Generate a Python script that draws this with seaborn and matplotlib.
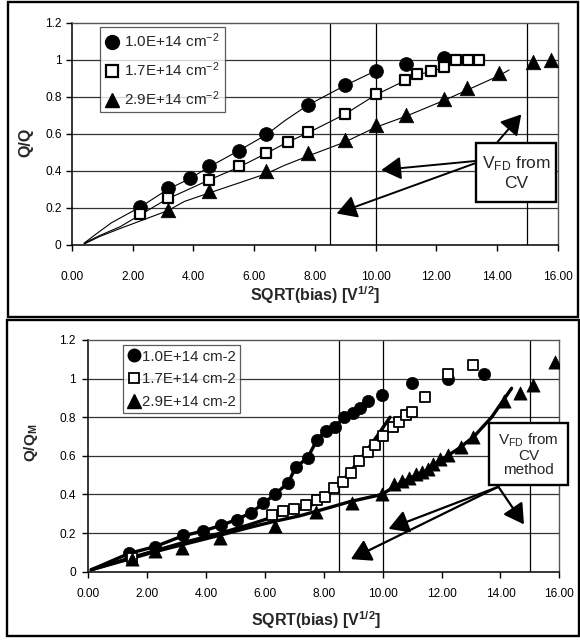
import matplotlib
matplotlib.use("Agg")
import matplotlib.pyplot as plt
import seaborn as sns
import pandas as pd
from matplotlib.lines import Line2D
from matplotlib.patches import Rectangle

# ---------------- data ----------------
labels_top = ["1.0E+14 cm$^{-2}$", "1.7E+14 cm$^{-2}$", "2.9E+14 cm$^{-2}$"]
labels_bot = ["1.0E+14 cm-2", "1.7E+14 cm-2", "2.9E+14 cm-2"]

# full-depletion voltages from CV, in sqrt(V)
vfd_sqrt = [8.5, 10.0, 15.0]

# upper panel: measured points
top_c_x = [2.25, 3.15, 3.9, 4.5, 5.5, 6.4, 7.77, 8.98, 10.0, 11.0, 12.25]
top_c_y = [0.203, 0.306, 0.363, 0.428, 0.509, 0.597, 0.755, 0.863, 0.94, 0.975, 1.01]
top_s_x = [2.25, 3.15, 4.5, 5.5, 6.4, 7.1, 7.77, 8.98, 10.0, 10.98, 11.38, 11.82, 12.27, 12.65, 13.04, 13.4]
top_s_y = [0.166, 0.252, 0.35, 0.426, 0.497, 0.557, 0.608, 0.707, 0.813, 0.89, 0.922, 0.937, 0.962, 1.0, 1.0, 1.0]
top_t_x = [3.15, 4.5, 6.4, 7.77, 8.98, 10.0, 11.0, 12.25, 13.0, 14.08, 15.17, 15.78]
top_t_y = [0.19, 0.291, 0.40, 0.495, 0.567, 0.648, 0.70, 0.79, 0.845, 0.926, 0.99, 1.0]

# upper panel: continuous charge curves
top_cc_x = [0.4, 0.8, 1.3, 1.8, 2.25, 3.15, 3.9, 4.5, 5.5, 6.4, 7.0, 7.77, 8.98, 10.0]
top_cc_y = [0.01, 0.06, 0.12, 0.165, 0.205, 0.30, 0.36, 0.42, 0.51, 0.595, 0.67, 0.755, 0.86, 0.94]
top_sc_x = [0.4, 0.9, 1.6, 2.25, 3.15, 3.7, 4.5, 5.5, 6.4, 7.1, 7.77, 8.98, 10.0, 10.98, 11.38, 11.82, 12.27]
top_sc_y = [0.01, 0.05, 0.10, 0.163, 0.25, 0.29, 0.35, 0.42, 0.495, 0.555, 0.605, 0.705, 0.81, 0.888, 0.92, 0.935, 0.96]
top_tc_x = [0.4, 0.9, 1.6, 2.25, 3.15, 3.7, 4.5, 5.5, 6.4, 7.0, 7.77, 8.98, 10.0, 11.0, 12.25, 13.0, 14.08, 14.4]
top_tc_y = [0.005, 0.045, 0.09, 0.13, 0.185, 0.235, 0.28, 0.335, 0.385, 0.43, 0.48, 0.555, 0.635, 0.695, 0.78, 0.835, 0.915, 0.945]

# lower panel: measured points
bot_c_x = [1.39, 2.27, 3.2, 3.88, 4.51, 5.04, 5.52, 5.92, 6.33, 6.79, 7.04, 7.45, 7.76, 8.06,
           8.38, 8.69, 8.98, 9.23, 9.51, 9.97, 10.98, 12.21, 13.44]
bot_c_y = [0.098, 0.13, 0.19, 0.21, 0.242, 0.27, 0.306, 0.354, 0.40, 0.458, 0.54, 0.587, 0.68, 0.73,
           0.75, 0.80, 0.824, 0.847, 0.884, 0.916, 0.976, 0.997, 1.024]
bot_s_x = [1.5, 6.23, 6.6, 7.0, 7.38, 7.76, 8.04, 8.35, 8.64, 8.91, 9.21, 9.51, 9.74, 10.0,
           10.34, 10.57, 10.78, 10.98, 11.44, 12.21, 13.06]
bot_s_y = [0.07, 0.292, 0.312, 0.326, 0.346, 0.369, 0.389, 0.432, 0.466, 0.513, 0.574, 0.622, 0.656, 0.703,
           0.751, 0.777, 0.812, 0.829, 0.904, 1.025, 1.071]
bot_t_x = [1.5, 2.27, 3.17, 4.47, 6.34, 7.72, 8.95, 9.97, 10.4, 10.65, 10.9, 11.12, 11.35, 11.55,
           11.72, 11.95, 12.22, 12.65, 13.06, 14.12, 14.66, 15.12, 15.85]
bot_t_y = [0.065, 0.108, 0.121, 0.177, 0.237, 0.311, 0.354, 0.40, 0.452, 0.468, 0.487, 0.506, 0.518, 0.53,
           0.556, 0.582, 0.605, 0.648, 0.70, 0.885, 0.924, 0.967, 1.088]

# lower panel: continuous charge curves
bot_cc_x = [0.1, 1.39, 2.27, 3.2, 3.88, 4.51, 5.04, 5.52, 5.92, 6.33, 6.79, 7.04, 7.45, 7.76,
            8.06, 8.38, 8.69, 8.98, 9.23, 9.51]
bot_cc_y = [0.01, 0.095, 0.13, 0.185, 0.21, 0.24, 0.27, 0.305, 0.35, 0.40, 0.46, 0.54, 0.59, 0.68,
            0.73, 0.75, 0.80, 0.824, 0.847, 0.884]
bot_sc_x = [0.1, 1.5, 2.3, 3.2, 4.5, 5.5, 6.3, 6.96, 7.5, 7.98, 8.66, 9.23, 9.8, 10.25]
bot_sc_y = [0.01, 0.075, 0.11, 0.15, 0.2, 0.245, 0.285, 0.311, 0.34, 0.371, 0.475, 0.579, 0.70, 0.80]
bot_tc_x = [0.1, 1.5, 2.3, 3.2, 4.5, 5.5, 6.3, 7.2, 7.98, 8.89, 9.97, 10.5, 11.0, 11.5, 12.0,
            12.6, 13.1, 13.7, 14.38]
bot_tc_y = [0.01, 0.07, 0.105, 0.14, 0.19, 0.23, 0.26, 0.29, 0.323, 0.363, 0.40, 0.45, 0.49, 0.525,
            0.58, 0.64, 0.70, 0.80, 0.95]

x_ticks = [0, 2, 4, 6, 8, 10, 12, 14, 16]
x_tick_labels = ["0.00", "2.00", "4.00", "6.00", "8.00", "10.00", "12.00", "14.00", "16.00"]
y_ticks = [0, 0.2, 0.4, 0.6, 0.8, 1.0, 1.2]
y_tick_labels = ["0", "0.2", "0.4", "0.6", "0.8", "1", "1.2"]

# ---------------- style ----------------
sns.set_theme(style="white")
plt.rcParams["font.family"] = ["Liberation Sans", "DejaVu Sans"]
plt.rcParams["mathtext.default"] = "regular"

W, H = 580, 641
fig = plt.figure(figsize=(W / 100, H / 100), dpi=100)


def px_axes(x0, y0, x1, y1):
    """Axes rectangle from pixel corners (top-left origin)."""
    return [x0 / W, (H - y1) / H, (x1 - x0) / W, (y1 - y0) / H]


ax_top = fig.add_axes(px_axes(72, 22.7, 557.7, 245))
ax_bot = fig.add_axes(px_axes(88.3, 340, 559.3, 571.7))

# outer frames around each panel
for (x0, y0, x1, y1) in [(8, 2, 578, 317), (7, 320, 579, 636)]:
    fig.add_artist(Rectangle((x0 / W, (H - y1) / H), (x1 - x0) / W, (y1 - y0) / H,
                             transform=fig.transFigure, fill=False, lw=1.7, ec="black"))


def style_axes(ax, xpad, ypad):
    ax.set_xlim(0, 16)
    ax.set_ylim(0, 1.2)
    ax.set_xticks(x_ticks)
    ax.set_xticklabels(x_tick_labels)
    ax.set_yticks(y_ticks)
    ax.set_yticklabels(y_tick_labels)
    ax.tick_params(axis="x", direction="out", length=4, width=1, pad=xpad, labelsize=8.6, colors="black")
    ax.tick_params(axis="y", direction="out", length=4, width=1, pad=ypad, labelsize=8.6, colors="black")
    ax.tick_params(bottom=True, left=True)
    for y in y_ticks[1:-1]:
        ax.axhline(y, color="#333333", lw=0.9, zorder=0.5)
    for v in vfd_sqrt:
        ax.axvline(v, color="black", lw=0.9, zorder=0.6)
    for side in ("top", "right"):
        ax.spines[side].set_color("#555555")
        ax.spines[side].set_linewidth(1.0)
    for side in ("left", "bottom"):
        ax.spines[side].set_color("black")
        ax.spines[side].set_linewidth(1.1)


def curve(ax, xs, ys, lw):
    df = pd.DataFrame({"x": xs, "y": ys})
    sns.lineplot(data=df, x="x", y="y", sort=False, estimator=None, color="black",
                 lw=lw, ax=ax, zorder=2, legend=False)


def points(ax, xs, ys, marker, s, face, lw):
    df = pd.DataFrame({"x": xs, "y": ys})
    sns.scatterplot(data=df, x="x", y="y", marker=marker, s=s, color=face, edgecolor="black",
                    linewidth=lw, ax=ax, zorder=3, legend=False)


arrow_kw = dict(arrowstyle="-|>,head_length=0.55,head_width=0.32", mutation_scale=22,
                color="black", shrinkA=0, shrinkB=0)

# ---------------- upper panel ----------------
style_axes(ax_top, xpad=15, ypad=3.5)
curve(ax_top, top_cc_x, top_cc_y, 0.8)
curve(ax_top, top_sc_x, top_sc_y, 0.8)
curve(ax_top, top_tc_x, top_tc_y, 0.8)
points(ax_top, top_c_x, top_c_y, "o", 100, "black", 0.5)
points(ax_top, top_s_x, top_s_y, "s", 62, "white", 1.6)
points(ax_top, top_t_x, top_t_y, "^", 110, "black", 0.5)

ax_top.set_xlabel("SQRT(bias) [V$^{1/2}$]", fontsize=11.5, fontweight="bold")
ax_top.set_ylabel("Q/Q", fontsize=11.5, fontweight="bold")
ax_top.xaxis.set_label_coords(0.5, -0.178)
ax_top.yaxis.set_label_coords(-0.08, 0.46)

h_top = [
    Line2D([], [], ls="none", marker="o", ms=10, mfc="black", mec="black"),
    Line2D([], [], ls="none", marker="s", ms=8, mfc="white", mec="black", mew=1.6),
    Line2D([], [], ls="none", marker="^", ms=10.5, mfc="black", mec="black"),
]
leg = ax_top.legend(h_top, labels_top, loc="upper left", bbox_to_anchor=(0.0577, 0.982),
                    borderaxespad=0, fontsize=11, frameon=True, fancybox=False,
                    handlelength=1.0, handletextpad=0.3, borderpad=0.3, labelspacing=0.68)
leg.get_frame().set_edgecolor("#333333")
leg.get_frame().set_linewidth(0.9)
leg.set_zorder(6)

ax_top.add_patch(Rectangle((13.31, 0.234), 2.63, 0.315, fc="white", ec="black",
                           lw=1.7, zorder=5, clip_on=False))
ax_top.text(14.63, 0.391, "V$_{FD}$ from\nCV", ha="center", va="center",
            fontsize=12.5, zorder=6, linespacing=1.25)

for (x0, y0), (x1, y1) in [((13.26, 0.44), (8.72, 0.17)),
                           ((13.26, 0.453), (10.19, 0.405)),
                           ((14.02, 0.557), (14.8, 0.705))]:
    ax_top.annotate("", xy=(x1, y1), xytext=(x0, y0),
                    arrowprops=dict(lw=1.4, **arrow_kw), zorder=4)

# ---------------- lower panel ----------------
style_axes(ax_bot, xpad=8, ypad=5)
curve(ax_bot, bot_cc_x, bot_cc_y, 2.4)
curve(ax_bot, bot_sc_x, bot_sc_y, 2.4)
curve(ax_bot, bot_tc_x, bot_tc_y, 2.4)
points(ax_bot, bot_c_x, bot_c_y, "o", 78, "black", 0.5)
points(ax_bot, bot_s_x, bot_s_y, "s", 50, "white", 1.3)
points(ax_bot, bot_t_x, bot_t_y, "^", 90, "black", 0.5)

ax_bot.set_xlabel("SQRT(bias) [V$^{1/2}$]", fontsize=11.5, fontweight="bold")
ax_bot.set_ylabel("Q/Q$_M$", fontsize=11, fontweight="bold")
ax_bot.xaxis.set_label_coords(0.483, -0.162)
ax_bot.yaxis.set_label_coords(-0.1025, 0.555)

h_bot = [
    Line2D([], [], ls="none", marker="o", ms=9, mfc="black", mec="black"),
    Line2D([], [], ls="none", marker="s", ms=7.5, mfc="white", mec="black", mew=1.3),
    Line2D([], [], ls="none", marker="^", ms=9.5, mfc="black", mec="black"),
]
leg2 = ax_bot.legend(h_bot, labels_bot, loc="upper left", bbox_to_anchor=(0.0743, 0.978),
                     borderaxespad=0, fontsize=10.8, frameon=True, fancybox=False,
                     handlelength=0.8, handletextpad=0.15, borderpad=0.3, labelspacing=0.58)
leg2.get_frame().set_edgecolor("#333333")
leg2.get_frame().set_linewidth(0.9)
leg2.set_zorder(6)

ax_bot.add_patch(Rectangle((13.62, 0.449), 2.68, 0.32, fc="white", ec="black",
                           lw=1.7, zorder=5, clip_on=False))
ax_bot.text(14.96, 0.609, "V$_{FD}$ from\nCV\nmethod", ha="center", va="center",
            fontsize=11, zorder=6, linespacing=1.02)

for (x0, y0), (x1, y1) in [((13.93, 0.44), (10.2, 0.222)),
                           ((13.93, 0.44), (8.92, 0.065)),
                           ((13.93, 0.44), (14.8, 0.245))]:
    ax_bot.annotate("", xy=(x1, y1), xytext=(x0, y0),
                    arrowprops=dict(lw=1.6, **arrow_kw), zorder=4)

fig.savefig("out.png", dpi=100)
